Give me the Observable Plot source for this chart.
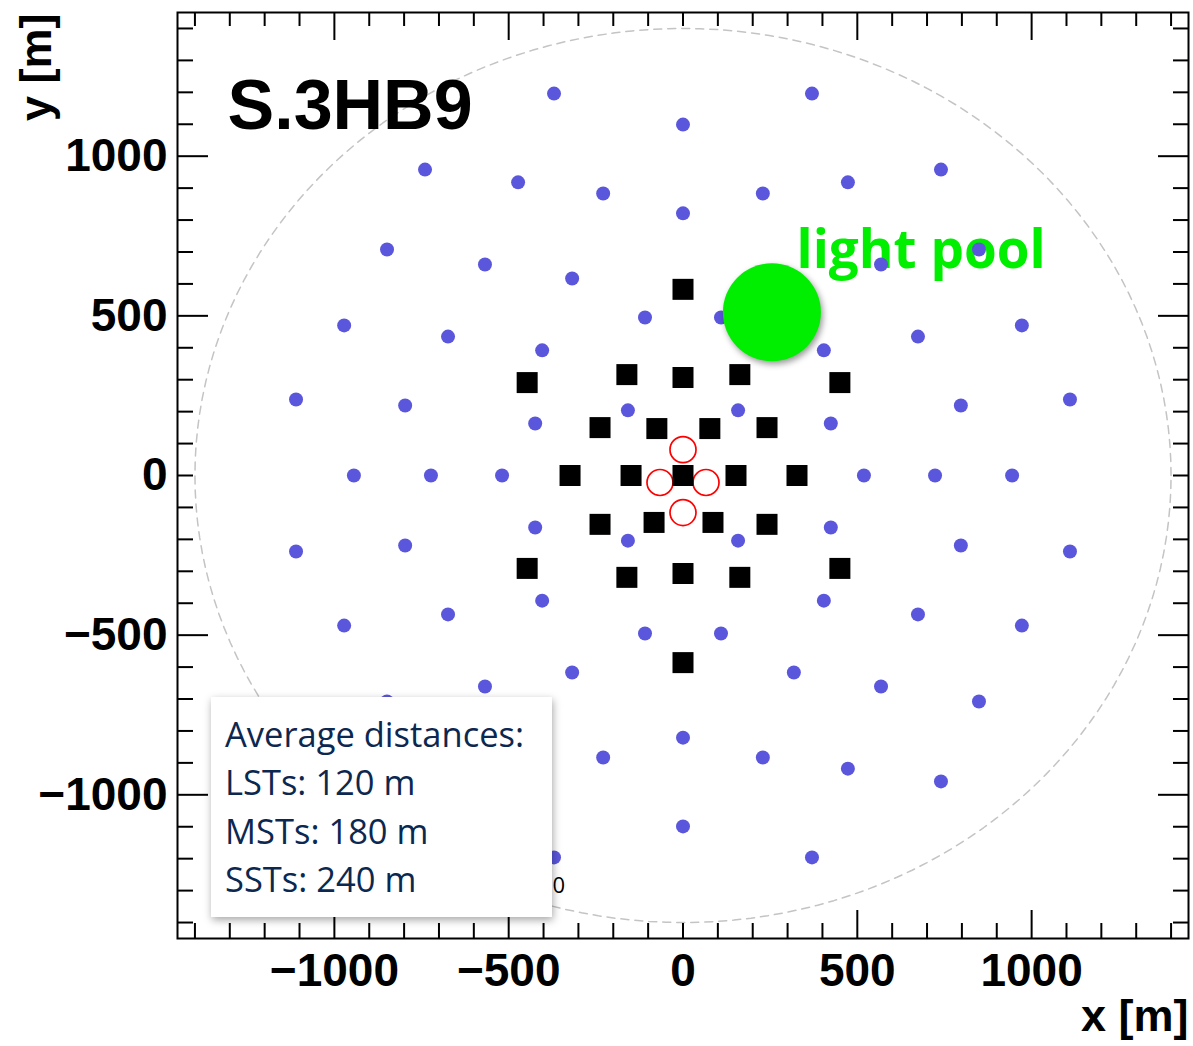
<!DOCTYPE html>
<html><head><meta charset="utf-8">
<script src="https://cdn.jsdelivr.net/npm/d3@7"></script>
<script src="https://cdn.jsdelivr.net/npm/@observablehq/plot@0.6"></script>
<style>
body{margin:0;background:#fff;}
#wrap{position:relative;width:1193px;height:1046px;}
#legend{position:absolute;left:211px;top:697px;width:341px;height:220px;background:#fff;box-shadow:1px 3px 8px rgba(0,0,0,0.35);}
#legend svg{display:block;}
#legend text{font-family:"Open Sans";font-size:34.5px;fill:#0c2850;}
</style></head>
<body><div id="wrap"></div>
<script>
// ---- data (metres) ----
const layoutName = "S.3HB9";
const poolLabel = "light pool";
const fieldRadius = 1400;
const xDomain = [-1450, 1450];
const yDomain = [-1450, 1450];

// Small-size telescopes (SSTs)
const sstX = [
  -370, -740, -473, -229, -849, -568, -318, -972, -674, -404, -109, -1110, -797, -424, -158,
   370,  740,  473,  229,  849,  568,  318,  972,  674,  404,  109,  1110,  797,  424,  158,
  -370, -740, -473, -229, -849, -568, -318, -972, -674, -404, -109, -1110, -797, -424, -158,
   370,  740,  473,  229,  849,  568,  318,  972,  674,  404,  109,  1110,  797,  424,  158,
   0, 0, 0, 0, -944, -723, -519, 519, 723, 944
];
const sstY = [
   1196,  958,  918,  883,  708,  661,  617,  470,  435,  392,  495,  238,  219,  163,  204,
   1196,  958,  918,  883,  708,  661,  617,  470,  435,  392,  495,  238,  219,  163,  204,
  -1196, -958, -918, -883, -708, -661, -617, -470, -435, -392, -495, -238, -219, -163, -204,
  -1196, -958, -918, -883, -708, -661, -617, -470, -435, -392, -495, -238, -219, -163, -204,
   1099, 821, -821, -1099, 0, 0, 0, 0, 0, 0
];
// Medium-size telescopes (MSTs)
const mstX = [0, 0, -447, -161, 163, 450, -238, -75, 77, 241, -324, -149, 0, 152, 327,
              -238, -83, 86, 241, -447, -161, 0, 163, 450, 0];
const mstY = [583, 307, 291, 316, 316, 291, 150, 147, 147, 150, 0, 0, 0, 0, 0,
              -153, -147, -147, -153, -291, -319, -307, -319, -291, -586];
// Large-size telescopes (LSTs)
const lstX = [0, -66, 66, 0];
const lstY = [81, -22, -22, -116];
// Light pool centre
const poolX = [255];
const poolY = [511];
// stray label fragment
const strayText = ["0"];
const strayX = [-356];
const strayY = [-1306];

// ticks
const minorTicks = [-1400,-1300,-1200,-1100,-900,-800,-700,-600,-400,-300,-200,-100,0,100,200,300,400,600,700,800,900,1100,1200,1300,1400];
const majorTicks = [-1000,-500,500,1000];
const labelTicks = [-1000,-500,0,500,1000];
const xLabel = "x [m]";
const yLabel = "y [m]";

const legendLines = ["Average distances:", "LSTs: 120 m", "MSTs: 180 m", "SSTs: 240 m"];

// ---- build ----
const sst = sstX.map((x, i) => ({x, y: sstY[i]}));
const mst = mstX.map((x, i) => ({x, y: mstY[i]}));
const lst = lstX.map((x, i) => ({x, y: lstY[i]}));
const pool = poolX.map((x, i) => ({x, y: poolY[i]}));
const stray = strayText.map((t, i) => ({t, x: strayX[i], y: strayY[i]}));
const ring = d3.range(0, 361, 2).map(a => ({x: fieldRadius * Math.cos(a * Math.PI / 180), y: fieldRadius * Math.sin(a * Math.PI / 180)}));

const W = 1193, H = 1046, mL = 177, mR = 5, mT = 12, mB = 108;
const fw = W - mL - mR, fh = H - mT - mB;
const fmt = d => d < 0 ? "\u2212" + Math.abs(d) : String(d);
const axisFont = {fontSize: 46, fontWeight: "bold", fontFamily: "Liberation Sans"};

const chart = Plot.plot({
  width: W, height: H,
  marginLeft: mL, marginRight: mR, marginTop: mT, marginBottom: mB,
  x: {domain: xDomain},
  y: {domain: yDomain},
  style: {background: "white", fontFamily: "Liberation Sans"},
  marks: [
    Plot.line(ring, {x: "x", y: "y", stroke: "#c4c4c4", strokeWidth: 1.5, strokeDasharray: "8,6"}),
    Plot.text(stray, {x: "x", y: "y", text: "t", fontSize: 22, fontFamily: "Open Sans", fill: "black", lineAnchor: "bottom", textAnchor: "middle"}),
    Plot.text([poolLabel], {frameAnchor: "top-left", text: d => d, dx: 619, dy: 255, textAnchor: "start", lineAnchor: "bottom",
      fontSize: 53, fontWeight: "bold", fontFamily: "Open Sans", fill: "#00ee00"}),
    Plot.dot(sst, {x: "x", y: "y", r: 7, fill: "#5b57dc"}),
    Plot.dot(lst, {x: "x", y: "y", r: 13, stroke: "#ff0000", strokeWidth: 1.7, fill: "none"}),
    Plot.dot(mst, {x: "x", y: "y", r: 11.85, symbol: "square", fill: "black"}),
    Plot.dot(pool, {x: "x", y: "y", r: 49, fill: "#00ee00"}),
    Plot.text([layoutName], {frameAnchor: "top-left", text: d => d, dx: 50, dy: 116, textAnchor: "start", lineAnchor: "bottom",
      fontSize: 70, fontWeight: "bold", fontFamily: "Liberation Sans", fill: "black"}),
    // inward ticks
    Plot.tickX(minorTicks, {x: d => d, insetTop: fh - 15, stroke: "black", strokeWidth: 2}),
    Plot.tickX(minorTicks, {x: d => d, insetBottom: fh - 14, stroke: "black", strokeWidth: 2}),
    Plot.tickX(majorTicks, {x: d => d, insetTop: fh - 28, stroke: "black", strokeWidth: 2}),
    Plot.tickX(majorTicks, {x: d => d, insetBottom: fh - 28, stroke: "black", strokeWidth: 2}),
    Plot.tickY(minorTicks, {y: d => d, insetRight: fw - 16, stroke: "black", strokeWidth: 2}),
    Plot.tickY(minorTicks, {y: d => d, insetLeft: fw - 15, stroke: "black", strokeWidth: 2}),
    Plot.tickY(majorTicks, {y: d => d, insetRight: fw - 31, stroke: "black", strokeWidth: 2}),
    Plot.tickY(majorTicks, {y: d => d, insetLeft: fw - 30, stroke: "black", strokeWidth: 2}),
    Plot.frame({stroke: "black", strokeWidth: 2}),
    Plot.axisX(labelTicks, {anchor: "bottom", tickSize: 0, tickPadding: 15, tickFormat: fmt, label: null, ...axisFont}),
    Plot.axisY(labelTicks, {anchor: "left", tickSize: 0, tickPadding: 10, tickFormat: fmt, label: null, ...axisFont}),
    Plot.text([xLabel], {frameAnchor: "bottom-right", text: d => d, dx: 0, dy: 92, textAnchor: "end", lineAnchor: "bottom",
      fontSize: 45, fontWeight: "bold", fontFamily: "Liberation Sans", fill: "black"}),
    Plot.text([yLabel], {frameAnchor: "top-left", text: d => d, dx: -127, dy: 1, rotate: -90, textAnchor: "end", lineAnchor: "bottom",
      fontSize: 45, fontWeight: "bold", fontFamily: "Liberation Sans", fill: "black"})
  ]
});

const wrap = document.getElementById("wrap");
wrap.appendChild(chart);
d3.select(chart).selectAll('g[aria-label="dot"]').filter(function() { return this.getAttribute("fill") === "#00ee00"; })
  .style("filter", "drop-shadow(2px 3px 3px rgba(0,0,0,0.4))");

const legend = d3.select(wrap).append("div").attr("id", "legend");
const lsvg = legend.append("svg").attr("width", 341).attr("height", 220);
lsvg.selectAll("text").data(legendLines).join("text")
  .attr("x", 14).attr("y", (d, i) => 50 + i * 48.3).text(d => d);
</script></body></html>
